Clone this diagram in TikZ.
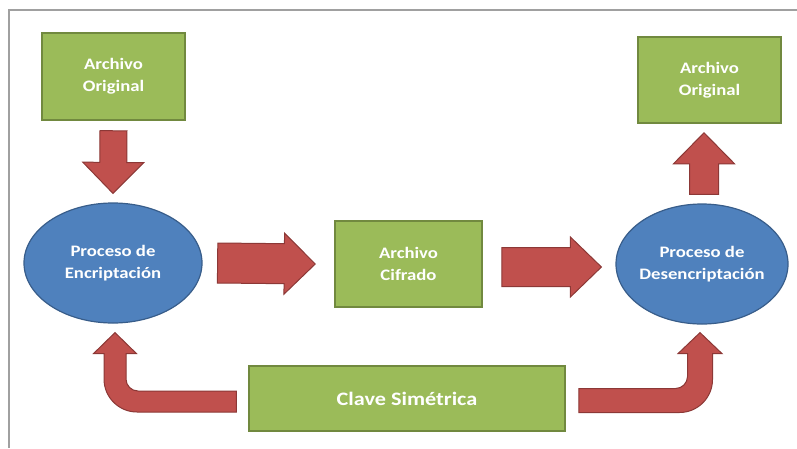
\documentclass[tikz,border=0pt]{standalone}
\usepackage{fontspec}
\setmainfont{Carlito}[FakeStretch=1.17]
\usetikzlibrary{calc}
\usetikzlibrary{shapes.geometric}

\definecolor{boxgreen}{HTML}{9BBB59}
\definecolor{boxgreenline}{HTML}{71893F}
\definecolor{procblue}{HTML}{4F81BD}
\definecolor{procblueline}{HTML}{385D8A}
\definecolor{arrowred}{HTML}{C0504D}
\definecolor{arrowredline}{HTML}{8C3836}
\definecolor{framegray}{HTML}{A0A0A0}

\tikzset{
  filebox/.style={rectangle, fill=boxgreen, draw=boxgreenline, line width=1.5pt,
    text=white, font=\bfseries\fontsize{16}{22}\selectfont, align=center, inner sep=0pt},
  procell/.style={ellipse, fill=procblue, draw=procblueline, line width=1.2pt,
    text=white, font=\bfseries\fontsize{16}{22}\selectfont, align=center, inner sep=-3pt},
  fat/.style 2 args={fill=arrowred, draw=arrowredline, line width=1pt, line join=miter,
    to path={($(\tikztostart)!#1!90:(\tikztotarget)$)
      -- ($(\tikztotarget)!31pt!(\tikztostart)!#1!-90:(\tikztostart)$)
      -- ($(\tikztotarget)!31pt!(\tikztostart)!#2!-90:(\tikztostart)$)
      -- (\tikztotarget)
      -- ($(\tikztotarget)!31pt!(\tikztostart)!#2!90:(\tikztostart)$)
      -- ($(\tikztotarget)!31pt!(\tikztostart)!#1!90:(\tikztostart)$)
      -- ($(\tikztostart)!#1!-90:(\tikztotarget)$) -- cycle}},
  bent/.style={fill=arrowred, draw=arrowredline, line width=1pt, line join=miter},
}

\begin{document}
\begin{tikzpicture}[x=1pt,y=-1pt]
\useasboundingbox (0,0) rectangle (797,448);

%frame
\draw[framegray, line width=1.2pt] (9,448) -- (9,10) -- (797,10);

%files
\node[filebox, minimum width=143pt, minimum height=87pt] (orig1) at (113.5,76.5) {Archivo\\Original};
\node[filebox, minimum width=147pt, minimum height=86pt] (cif) at (408.5,264) {Archivo\\Cifrado};
\node[filebox, minimum width=143pt, minimum height=86pt] (orig2) at (709.5,80) {Archivo\\Original};
\node[filebox, minimum width=316pt, minimum height=65pt, font=\bfseries\fontsize{19}{23}\selectfont] (key) at (407,398.5) {Clave Simétrica};

%processes
\node[procell, minimum width=178pt, minimum height=120pt] (enc) at (113,263) {Proceso de\\Encriptación};
\node[procell, minimum width=172pt, minimum height=120pt] (dec) at (702,264) {Proceso de\\Desencriptación};

%arrow ends
\coordinate (a1s) at ([yshift=-10pt]orig1.south);
\coordinate (a1e) at ([yshift=9pt]enc.north);
\coordinate (a2s) at ([xshift=15pt]enc.east);
\coordinate (a2e) at ([xshift=-19pt]cif.west);
\coordinate (a3s) at ([xshift=19pt,yshift=-3pt]cif.east);
\coordinate (a3e) at ([xshift=-14pt,yshift=-3pt]dec.west);
\coordinate (a4s) at ([xshift=2pt,yshift=9pt]dec.north);
\coordinate (a4e) at ([xshift=-5.5pt,yshift=-9pt]orig2.south);
\coordinate (kl) at ([xshift=-12pt,yshift=-3pt]key.west);
\coordinate (kltip) at ([xshift=2pt,yshift=-9pt]enc.south);
\coordinate (kr) at ([xshift=13pt,yshift=-2pt]key.east);
\coordinate (krtip) at ([xshift=-2pt,yshift=-8pt]dec.south);

%straight arrows
\path[fat={13.5pt}{30.5pt}] (a1s) to (a1e);
\path[fat={20pt}{30.5pt}] (a2s) to (a2e);
\path[fat={19.5pt}{30pt}] (a3s) to (a3e);
\path[fat={14.5pt}{30.5pt}] (a4s) to (a4e);

%key arrows
\path[bent] let \p1=(kl), \p2=(kltip) in
  (\x1,\y1+10.5pt) -- (\x2+23pt,\y1+10.5pt) arc[start angle=-90, end angle=-180, radius=12pt]
  -- (\x2+11pt,\y2-21pt) -- (\x2+21.5pt,\y2-21pt) -- (\p2) -- (\x2-21.5pt,\y2-21pt)
  -- (\x2-11pt,\y2-21pt) -- (\x2-11pt,\y1+22.5pt) arc[start angle=180, end angle=270, radius=33pt]
  -- (\x1,\y1-10.5pt) -- cycle;
\path[bent] let \p1=(kr), \p2=(krtip) in
  (\x1,\y1+12pt) -- (\x2-24.5pt,\y1+12pt) arc[start angle=-90, end angle=0, radius=12pt]
  -- (\x2-12.5pt,\y2-21pt) -- (\x2-22pt,\y2-21pt) -- (\p2) -- (\x2+22pt,\y2-21pt)
  -- (\x2+12.5pt,\y2-21pt) -- (\x2+12.5pt,\y1+21pt) arc[start angle=0, end angle=-90, radius=33pt]
  -- (\x1,\y1-12pt) -- cycle;

\end{tikzpicture}
\end{document}
